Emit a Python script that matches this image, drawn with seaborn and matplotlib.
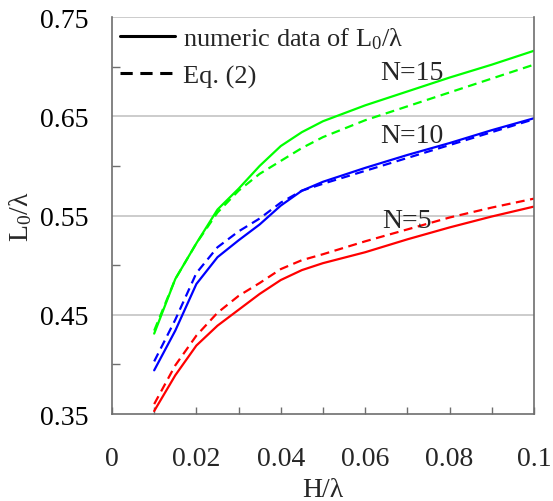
import numpy as np
import pandas as pd
import matplotlib
matplotlib.use("Agg")
import matplotlib.pyplot as plt
from matplotlib.lines import Line2D
from matplotlib.ticker import FixedLocator, FuncFormatter
import seaborn as sns

# Relative wave height H/λ
h_ratio = [0.01, 0.015, 0.02, 0.025, 0.03, 0.035, 0.04, 0.045, 0.05,
           0.06, 0.07, 0.08, 0.09, 0.1]

# L0/λ from the numeric model (solid) and from Eq. (2) (dashed)
num_n5 = [0.353, 0.389, 0.419, 0.439, 0.455, 0.471, 0.485, 0.495, 0.502,
          0.513, 0.526, 0.538, 0.549, 0.559]
eq_n5 = [0.360, 0.399, 0.429, 0.452, 0.469, 0.482, 0.496, 0.505, 0.511,
         0.524, 0.536, 0.548, 0.558, 0.567]
num_n10 = [0.394, 0.434, 0.481, 0.508, 0.525, 0.541, 0.560, 0.575, 0.584,
           0.598, 0.611, 0.623, 0.636, 0.648]
eq_n10 = [0.403, 0.445, 0.492, 0.518, 0.534, 0.547, 0.563, 0.575, 0.582,
          0.595, 0.608, 0.621, 0.634, 0.647]
num_n15 = [0.431, 0.486, 0.522, 0.556, 0.577, 0.600, 0.620, 0.634, 0.645,
           0.661, 0.675, 0.689, 0.702, 0.716]
eq_n15 = [0.434, 0.486, 0.522, 0.553, 0.575, 0.592, 0.605, 0.618, 0.629,
          0.646, 0.660, 0.674, 0.688, 0.702]

series_labels = ["N=5", "N=10", "N=15"]
label_pos = [(0.064, 0.538), (0.0635, 0.624), (0.0635, 0.6875)]

rows = []
for n, num, eq in zip(series_labels, [num_n5, num_n10, num_n15],
                      [eq_n5, eq_n10, eq_n15]):
    for x, a, b in zip(h_ratio, num, eq):
        rows.append({"H": x, "L0": a, "N": n, "kind": "numeric"})
        rows.append({"H": x, "L0": b, "N": n, "kind": "eq"})
df = pd.DataFrame(rows)

sns.set_theme(style="white")
plt.rcParams["font.family"] = ["Liberation Serif", "DejaVu Serif"]
plt.rcParams["mathtext.fontset"] = "custom"
plt.rcParams["mathtext.rm"] = "Liberation Serif"
plt.rcParams["mathtext.default"] = "regular"

fig = plt.figure(figsize=(5.53, 5.02), dpi=100)
ax = fig.add_axes([0.2025, 0.1733, 0.7631, 0.7908])

palette = {"N=5": "#ff0000", "N=10": "#0000ff", "N=15": "#00ff00"}
sns.lineplot(data=df, x="H", y="L0", hue="N", style="kind",
             palette=palette, dashes={"numeric": "", "eq": (4, 2.5)},
             linewidth=1.6, legend=False, ax=ax, estimator=None, sort=False)

ax.set_xlim(0, 0.1)
ax.set_ylim(0.35, 0.75)

# horizontal grid at the labelled y values
for yv in [0.45, 0.55, 0.65, 0.75]:
    ax.axhline(yv, color="#c8c8c8", lw=1.3, zorder=0)

for side in ["left", "right", "bottom"]:
    ax.spines[side].set_color("#6e6e6e")
    ax.spines[side].set_linewidth(1.2)
ax.spines["top"].set_visible(False)

ax.yaxis.set_major_locator(FixedLocator([0.35, 0.45, 0.55, 0.65, 0.75]))
ax.yaxis.set_minor_locator(FixedLocator([0.40, 0.50, 0.60, 0.70]))
ax.yaxis.set_major_formatter(FuncFormatter(lambda v, p: f"{v:.2f}"))
ax.xaxis.set_major_locator(FixedLocator([0, 0.02, 0.04, 0.06, 0.08, 0.1]))
ax.xaxis.set_minor_locator(FixedLocator([0.01, 0.03, 0.05, 0.07, 0.09]))
ax.xaxis.set_major_formatter(FuncFormatter(lambda v, p: "0" if v == 0 else f"{v:g}"))

ax.tick_params(axis="y", which="major", length=0, pad=17, labelsize=20,
               colors="black")
ax.tick_params(axis="y", which="minor", direction="in", length=5.5,
               width=1, color="#6e6e6e", left=True)
ax.tick_params(axis="x", which="both", direction="in", length=5,
               width=1, color="#6e6e6e", bottom=True)
ax.tick_params(axis="x", which="major", pad=23, labelsize=20)

ax.set_xlabel("H/λ", fontsize=20, labelpad=4)
ax.set_ylabel("L$_0$/λ", fontsize=20, labelpad=4)

for txt, (tx, ty) in zip(series_labels, label_pos):
    ax.text(tx, ty, txt, fontsize=20, va="baseline", ha="left")

handles = [Line2D([], [], color="black", lw=2.2),
           Line2D([], [], color="black", lw=2.2, dashes=(4, 2.5))]
ax.legend(handles, ["numeric data of L$_0$/λ", "Eq. (2)"], loc="upper left",
          bbox_to_anchor=(0.0, 1.0), frameon=False, fontsize=19,
          handlelength=2.1, handletextpad=0.3, labelspacing=0.5,
          borderaxespad=0.0, borderpad=0.3)

fig.savefig("out.png", dpi=100)
